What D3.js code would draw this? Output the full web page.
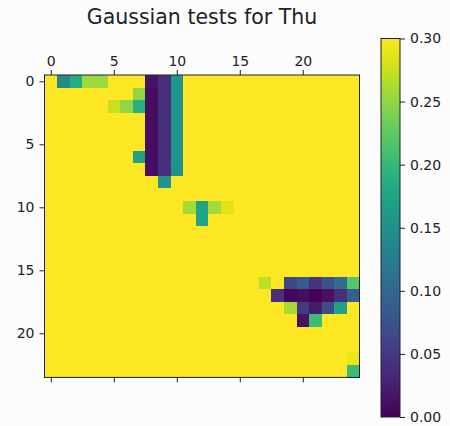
<!DOCTYPE html>
<html>
<head>
<meta charset="utf-8">
<script src="https://cdn.jsdelivr.net/npm/d3@7"></script>
<style>
  html, body { margin: 0; padding: 0; background: #fcfcfc; }
  svg { display: block; font-family: "DejaVu Sans", sans-serif; }
</style>
</head>
<body>
<svg id="chart" width="450" height="426"></svg>
<script>
// Matrix of test statistics: 24 rows x 25 columns (row index, then column index).
const Y = 0.30;
const matrix = [
  [Y,.145,.185,.255,.255,Y,Y,Y,.015,.04,.16,Y,Y,Y,Y,Y,Y,Y,Y,Y,Y,Y,Y,Y,Y],
  [Y,Y,Y,Y,Y,Y,Y,.25,.01,.04,.155,Y,Y,Y,Y,Y,Y,Y,Y,Y,Y,Y,Y,Y,Y],
  [Y,Y,Y,Y,Y,.275,.25,.19,.01,.04,.155,Y,Y,Y,Y,Y,Y,Y,Y,Y,Y,Y,Y,Y,Y],
  [Y,Y,Y,Y,Y,Y,Y,Y,.01,.04,.155,Y,Y,Y,Y,Y,Y,Y,Y,Y,Y,Y,Y,Y,Y],
  [Y,Y,Y,Y,Y,Y,Y,Y,.01,.04,.155,Y,Y,Y,Y,Y,Y,Y,Y,Y,Y,Y,Y,Y,Y],
  [Y,Y,Y,Y,Y,Y,Y,Y,.01,.04,.155,Y,Y,Y,Y,Y,Y,Y,Y,Y,Y,Y,Y,Y,Y],
  [Y,Y,Y,Y,Y,Y,Y,.17,.01,.04,.155,Y,Y,Y,Y,Y,Y,Y,Y,Y,Y,Y,Y,Y,Y],
  [Y,Y,Y,Y,Y,Y,Y,Y,.01,.04,.15,Y,Y,Y,Y,Y,Y,Y,Y,Y,Y,Y,Y,Y,Y],
  [Y,Y,Y,Y,Y,Y,Y,Y,Y,.155,Y,Y,Y,Y,Y,Y,Y,Y,Y,Y,Y,Y,Y,Y,Y],
  [Y,Y,Y,Y,Y,Y,Y,Y,Y,Y,Y,Y,Y,Y,Y,Y,Y,Y,Y,Y,Y,Y,Y,Y,Y],
  [Y,Y,Y,Y,Y,Y,Y,Y,Y,Y,Y,.26,.175,.26,.285,Y,Y,Y,Y,Y,Y,Y,Y,Y,Y],
  [Y,Y,Y,Y,Y,Y,Y,Y,Y,Y,Y,Y,.175,Y,Y,Y,Y,Y,Y,Y,Y,Y,Y,Y,Y],
  [Y,Y,Y,Y,Y,Y,Y,Y,Y,Y,Y,Y,Y,Y,Y,Y,Y,Y,Y,Y,Y,Y,Y,Y,Y],
  [Y,Y,Y,Y,Y,Y,Y,Y,Y,Y,Y,Y,Y,Y,Y,Y,Y,Y,Y,Y,Y,Y,Y,Y,Y],
  [Y,Y,Y,Y,Y,Y,Y,Y,Y,Y,Y,Y,Y,Y,Y,Y,Y,Y,Y,Y,Y,Y,Y,Y,Y],
  [Y,Y,Y,Y,Y,Y,Y,Y,Y,Y,Y,Y,Y,Y,Y,Y,Y,Y,Y,Y,Y,Y,Y,Y,Y],
  [Y,Y,Y,Y,Y,Y,Y,Y,Y,Y,Y,Y,Y,Y,Y,Y,Y,.27,Y,.065,.085,.045,.075,.105,.22],
  [Y,Y,Y,Y,Y,Y,Y,Y,Y,Y,Y,Y,Y,Y,Y,Y,Y,Y,.04,.005,.01,.002,.012,.04,.09],
  [Y,Y,Y,Y,Y,Y,Y,Y,Y,Y,Y,Y,Y,Y,Y,Y,Y,Y,Y,.26,.05,.02,.07,.17,Y],
  [Y,Y,Y,Y,Y,Y,Y,Y,Y,Y,Y,Y,Y,Y,Y,Y,Y,Y,Y,Y,.015,.205,Y,Y,Y],
  [Y,Y,Y,Y,Y,Y,Y,Y,Y,Y,Y,Y,Y,Y,Y,Y,Y,Y,Y,Y,Y,Y,Y,Y,Y],
  [Y,Y,Y,Y,Y,Y,Y,Y,Y,Y,Y,Y,Y,Y,Y,Y,Y,Y,Y,Y,Y,Y,Y,Y,Y],
  [Y,Y,Y,Y,Y,Y,Y,Y,Y,Y,Y,Y,Y,Y,Y,Y,Y,Y,Y,Y,Y,Y,Y,Y,.29],
  [Y,Y,Y,Y,Y,Y,Y,Y,Y,Y,Y,Y,Y,Y,Y,Y,Y,Y,Y,Y,Y,Y,Y,Y,.205]
];
const xTicks = [0, 5, 10, 15, 20];
const yTicks = [0, 5, 10, 15, 20];
const cbarTicks = [0.00, 0.05, 0.10, 0.15, 0.20, 0.25, 0.30];
const titleText = "Gaussian tests for Thu";

const nRows = matrix.length, nCols = matrix[0].length;
const svg = d3.select("#chart");

const plot = { left: 44.5, top: 75, cell: 12.6 };
const x = d3.scaleLinear().domain([-0.5, nCols - 0.5])
  .range([plot.left, plot.left + plot.cell * nCols]);
const y = d3.scaleLinear().domain([-0.5, nRows - 0.5])
  .range([plot.top, plot.top + plot.cell * nRows]);
const color = d3.scaleSequential(d3.interpolateViridis).domain([0, 0.30]).clamp(true);

const cells = [];
matrix.forEach((row, r) => row.forEach((v, c) => cells.push({ r, c, v })));

svg.append("g").selectAll("rect").data(cells).join("rect")
  .attr("x", d => x(d.c - 0.5))
  .attr("y", d => y(d.r - 0.5))
  .attr("width", d => x(d.c + 0.5) - x(d.c - 0.5) + 0.3)
  .attr("height", d => y(d.r + 0.5) - y(d.r - 0.5) + 0.3)
  .attr("fill", d => color(d.v))
  .attr("shape-rendering", "crispEdges");

const tickFont = 14;
function styleAxis(g, showText) {
  g.select(".domain").remove();
  g.selectAll(".tick line").attr("stroke", "#222").attr("stroke-width", 1);
  g.selectAll(".tick text").attr("fill", "#222").style("font-size", tickFont + "px")
    .style("font-family", "DejaVu Sans");
  if (!showText) g.selectAll(".tick text").remove();
}

svg.append("g").attr("transform", `translate(0,${y.range()[0]})`)
  .call(d3.axisTop(x).tickValues(xTicks).tickSize(5).tickPadding(4).tickFormat(d3.format("d")))
  .call(g => styleAxis(g, true));
svg.append("g").attr("transform", `translate(0,${y.range()[1]})`)
  .call(d3.axisBottom(x).tickValues(xTicks).tickSize(5))
  .call(g => styleAxis(g, false));
svg.append("g").attr("transform", `translate(${x.range()[0]},0)`)
  .call(d3.axisLeft(y).tickValues(yTicks).tickSize(5).tickPadding(5).tickFormat(d3.format("d")))
  .call(g => styleAxis(g, true));

svg.append("rect")
  .attr("x", x.range()[0]).attr("y", y.range()[0])
  .attr("width", x.range()[1] - x.range()[0]).attr("height", y.range()[1] - y.range()[0])
  .attr("fill", "none").attr("stroke", "#222").attr("stroke-width", 1);

svg.append("text")
  .attr("x", (x.range()[0] + x.range()[1]) / 2).attr("y", 24)
  .attr("text-anchor", "middle").attr("fill", "#222")
  .style("font-size", "20.5px").style("font-family", "DejaVu Sans")
  .text(titleText);

// Colour bar
const cb = { left: 381, width: 19, top: 38.5, bottom: 417 };
const defs = svg.append("defs");
const grad = defs.append("linearGradient").attr("id", "viridisGrad")
  .attr("x1", 0).attr("y1", 1).attr("x2", 0).attr("y2", 0);
d3.range(0, 1.0001, 0.05).forEach(t => {
  grad.append("stop").attr("offset", t).attr("stop-color", d3.interpolateViridis(t));
});
svg.append("rect")
  .attr("x", cb.left).attr("y", cb.top).attr("width", cb.width).attr("height", cb.bottom - cb.top)
  .attr("fill", "url(#viridisGrad)").attr("stroke", "#222").attr("stroke-width", 1);
const cbScale = d3.scaleLinear().domain([0, 0.30]).range([cb.bottom, cb.top]);
svg.append("g").attr("transform", `translate(${cb.left + cb.width},0)`)
  .call(d3.axisRight(cbScale).tickValues(cbarTicks).tickSize(5).tickPadding(5).tickFormat(d3.format(".2f")))
  .call(g => styleAxis(g, true));
</script>
</body>
</html>
